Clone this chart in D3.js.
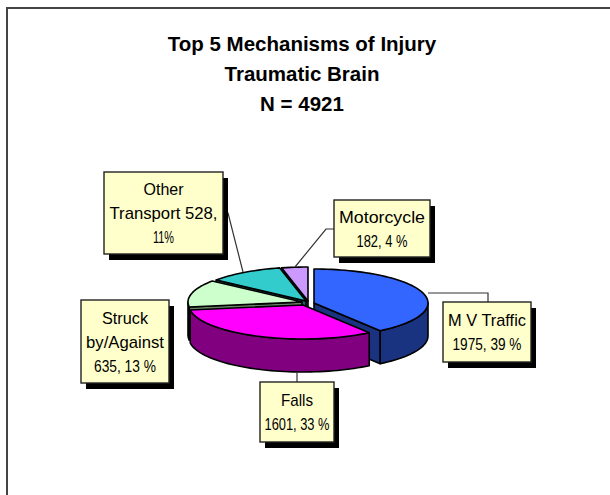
<!DOCTYPE html>
<html><head><meta charset="utf-8">
<script src="https://cdn.jsdelivr.net/npm/d3@7"></script>
<style>html,body{margin:0;padding:0;background:#fff}svg{display:block}text{font-family:"Liberation Sans",Arial,sans-serif;fill:#000}</style>
</head><body><svg id="c" width="610" height="495"></svg>
<script>
const titleLines = ["Top 5 Mechanisms of Injury", "Traumatic Brain", "N = 4921"];
const categories = ["MV Traffic", "Falls", "Struck by/Against", "Other Transport", "Motorcycle"];
const values = [1975, 1601, 635, 528, 182];
const labelLines = [["M V Traffic", "1975, 39 %"], ["Falls", "1601, 33 %"], ["Struck", "by/Against", "635, 13 %"], ["Other", "Transport 528,", "11%"], ["Motorcycle", "182, 4 %"]];
const topColors = ["#3366ff", "#ff00ff", "#ccffcc", "#33cccc", "#cc99ff"];
const wallColors = ["#1a3380", "#800080", "#668066", "#1a6666", "#664d80"];

// layout of the exploded slices and call-outs
const rx = 114, ry = 34, depth = 33;
const centers = [[314, 303], [303, 305], [302, 302], [306, 301], [308, 301]];
const boxes = [[443, 302, 88, 60], [260, 382, 74, 60], [81, 300, 88, 83], [104, 172, 119, 82], [334, 200, 96, 57]];
const lineWidths = [[78, 69], [32, 65], [46, 78, 62], [40, 108, 21], [86, 51]];
const leaders = [[[428, 293], [488, 293], [488, 302]], [[297, 372], [297, 382]], [], [[223, 212], [228, 213], [243, 272]], [[334, 229], [326, 229], [295, 267]]];
const drawOrder = [4, 3, 2, 0, 1];

const svg = d3.select("#c");
svg.append("path").attr("d", "M610,8H7V495").attr("fill", "none").attr("stroke", "#444").attr("stroke-width", 2);

svg.append("g").selectAll("text").data(titleLines).join("text")
  .attr("x", 302).attr("y", (d, i) => [51, 81, 111][i]).attr("text-anchor", "middle")
  .attr("font-size", 20.5).attr("font-weight", "bold").text(d => d);

const arcs = d3.pie().sort(null).startAngle(0).endAngle(2 * Math.PI)(values);
const line = d3.line();
const px = (c, a) => [c[0] + rx * Math.sin(a), c[1] - ry * Math.cos(a)];
const samples = (a0, a1) => { const n = Math.max(2, Math.ceil((a1 - a0) / 0.04)); return d3.range(n + 1).map(i => a0 + (a1 - a0) * i / n); };
const down = p => [p[0], p[1] + depth];
const g = svg.append("g");
const edge = { stroke: "#000", "stroke-width": 1.6, "stroke-linejoin": "round" };
const poly = (pts, fill) => { const p = g.append("path").attr("d", line(pts) + "Z").attr("fill", fill); Object.entries(edge).forEach(([k, v]) => p.attr(k, v)); };

drawOrder.forEach(i => {
  const s = arcs[i], c = centers[i], a0 = s.startAngle, a1 = s.endAngle;
  // cut planes that face the viewer
  if (Math.sin(a0) < 0) { const r = px(c, a0); poly([c, r, down(r), down(c)], wallColors[i]); }
  if (Math.sin(a1) > 0) { const r = px(c, a1); poly([c, r, down(r), down(c)], wallColors[i]); }
  // outer wall, front half only
  const f0 = Math.max(a0, Math.PI / 2), f1 = Math.min(a1, 3 * Math.PI / 2);
  if (f1 > f0) { const top = samples(f0, f1).map(a => px(c, a)); poly(top.concat(top.map(down).reverse()), wallColors[i]); }
  // top face
  poly([c].concat(samples(a0, a1).map(a => px(c, a))), topColors[i]);
});

const lead = svg.append("g").attr("fill", "none").attr("stroke", "#333").attr("stroke-width", 1.2);
leaders.filter(l => l.length).forEach(l => lead.append("path").attr("d", line(l)));

const box = svg.append("g").selectAll("g").data(boxes).join("g");
box.append("rect").attr("x", d => d[0] + 5).attr("y", d => d[1] + 6).attr("width", d => d[2]).attr("height", d => d[3]).attr("fill", "#000");
box.append("rect").attr("x", d => d[0]).attr("y", d => d[1]).attr("width", d => d[2]).attr("height", d => d[3]).attr("fill", "#ffffcc").attr("stroke", "#222").attr("stroke-width", 1.4);
box.each(function (d, i) {
  const ls = labelLines[i], h = 24;
  d3.select(this).selectAll("text").data(ls).join("text")
    .attr("x", d[0] + d[2] / 2).attr("y", (t, j) => d[1] + d[3] / 2 + (j - (ls.length - 1) / 2) * h + 6)
    .attr("text-anchor", "middle").attr("font-size", 17)
    .attr("textLength", (t, j) => lineWidths[i][j]).attr("lengthAdjust", "spacingAndGlyphs").text(t => t);
});
</script></body></html>
